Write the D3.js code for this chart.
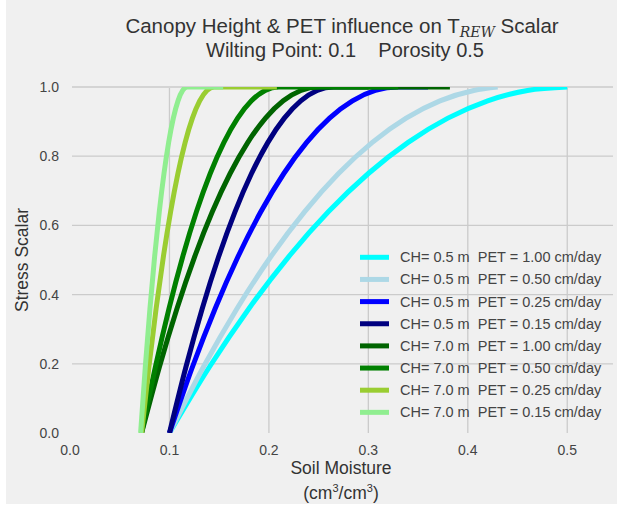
<!DOCTYPE html>
<html><head><meta charset="utf-8">
<script src="https://cdn.jsdelivr.net/npm/d3@7"></script>
<style>
body{margin:0;background:#fff;}
text{font-family:"Liberation Sans",Arial,sans-serif;white-space:pre;}
</style></head>
<body><svg id="c" width="617" height="509"></svg>
<script>
// ---- data ----
const seriesLabels = [
 "CH= 0.5 m  PET = 1.00 cm/day",
 "CH= 0.5 m  PET = 0.50 cm/day",
 "CH= 0.5 m  PET = 0.25 cm/day",
 "CH= 0.5 m  PET = 0.15 cm/day",
 "CH= 7.0 m  PET = 1.00 cm/day",
 "CH= 7.0 m  PET = 0.50 cm/day",
 "CH= 7.0 m  PET = 0.25 cm/day",
 "CH= 7.0 m  PET = 0.15 cm/day"
];
const seriesColors = ["#00ffff","#add8e6","#0000ff","#000080","#006400","#008000","#9acd32","#90ee90"];
// stress scalar values read at each sample point (last point: flat tail at 1.0)
const stress = [0, 0.19, 0.36, 0.51, 0.64, 0.75, 0.84, 0.91, 0.96, 0.99, 1.0, 1.0];
// soil moisture at which each curve reaches the above stress values
const moistCH05_PET100 = [0.100,0.140,0.180,0.220,0.260,0.300,0.340,0.380,0.420,0.460,0.500,0.500];
const moistCH05_PET050 = [0.100,0.134,0.168,0.202,0.236,0.270,0.304,0.338,0.372,0.406,0.430,0.430];
const moistCH05_PET025 = [0.100,0.123,0.146,0.169,0.192,0.215,0.238,0.261,0.284,0.307,0.330,0.360];
const moistCH05_PET015 = [0.100,0.1165,0.133,0.1495,0.166,0.1825,0.199,0.2155,0.232,0.2485,0.265,0.300];
const moistCH70_PET100 = [0.072,0.0898,0.1076,0.1254,0.1432,0.161,0.1788,0.1966,0.2144,0.2322,0.250,0.382];
const moistCH70_PET050 = [0.072,0.0858,0.0996,0.1134,0.1272,0.141,0.1548,0.1686,0.1824,0.1962,0.210,0.330];
const moistCH70_PET025 = [0.072,0.0793,0.0866,0.0939,0.1012,0.1085,0.1158,0.1231,0.1304,0.1377,0.145,0.208];
const moistCH70_PET015 = [0.071,0.0757,0.0804,0.0851,0.0898,0.0945,0.0992,0.1039,0.1086,0.1133,0.118,0.154];
const xTicks = [0.0,0.1,0.2,0.3,0.4,0.5];
const yTicks = [0.0,0.2,0.4,0.6,0.8,1.0];

const moist = [moistCH05_PET100,moistCH05_PET050,moistCH05_PET025,moistCH05_PET015,
               moistCH70_PET100,moistCH70_PET050,moistCH70_PET025,moistCH70_PET015];

// ---- layout ----
const svg = d3.select("#c");
svg.append("rect").attr("x",6).attr("y",0).attr("width",611).attr("height",504).attr("fill","#f0f0f0");

const L=70, R=613, T=87, B=433;
const x = d3.scaleLinear().domain([0,0.546]).range([L,R]);
const y = d3.scaleLinear().domain([0,1]).range([B,T]);

svg.append("defs").append("clipPath").attr("id","clip")
  .append("rect").attr("x",L).attr("y",T).attr("width",R-L).attr("height",B-T);

const grid = svg.append("g").attr("stroke","#cbcbcb").attr("stroke-width",1.3);
grid.selectAll("line.h").data(yTicks.slice(1)).join("line")
  .attr("x1",L+2).attr("x2",R).attr("y1",d=>y(d)).attr("y2",d=>y(d));
grid.selectAll("line.v").data(xTicks.slice(1)).join("line")
  .attr("y1",T+1).attr("y2",B).attr("x1",d=>x(d)).attr("x2",d=>x(d));

// tick labels
svg.append("g").selectAll("text").data(yTicks).join("text")
  .attr("x",59).attr("y",d=>y(d)+5).attr("text-anchor","end")
  .attr("font-size",14).attr("fill","#444").text(d=>d3.format(".1f")(d));
svg.append("g").selectAll("text").data(xTicks).join("text")
  .attr("x",d=>x(d)).attr("y",455).attr("text-anchor","middle")
  .attr("font-size",14).attr("fill","#444").text(d=>d3.format(".1f")(d));

// curves
const line = d3.line().x(d=>x(d[0])).y(d=>y(d[1])).curve(d3.curveMonotoneX);
const cg = svg.append("g").attr("clip-path","url(#clip)");
moist.forEach((m,i)=>{
  cg.append("path").datum(m.map((v,j)=>[v,stress[j]]))
    .attr("d",line).attr("fill","none").attr("stroke",seriesColors[i])
    .attr("stroke-width",5).attr("stroke-linejoin","round");
});

// legend
const lg = svg.append("g");
seriesLabels.forEach((s,i)=>{
  const yy = 257.3 + i*22.15;
  lg.append("line").attr("x1",360).attr("x2",389).attr("y1",yy).attr("y2",yy)
    .attr("stroke",seriesColors[i]).attr("stroke-width",5);
  lg.append("text").attr("x",400).attr("y",yy+5).attr("font-size",14.5).attr("fill","#444").text(s);
});

// titles
const t1 = svg.append("text").attr("x",342).attr("y",33).attr("text-anchor","middle")
  .attr("font-size",20.5).attr("fill","#333");
t1.append("tspan").text("Canopy Height & PET influence on T");
t1.append("tspan").attr("font-family","DejaVu Serif, serif").attr("font-style","italic")
  .attr("font-size",14).attr("dy",4).text("REW");
t1.append("tspan").attr("dy",-4).text(" Scalar");
svg.append("text").attr("x",345).attr("y",57).attr("text-anchor","middle")
  .attr("font-size",20).attr("fill","#333")
  .text("Wilting Point: 0.1    Porosity 0.5");

// axis labels
svg.append("text").attr("x",341).attr("y",474).attr("text-anchor","middle")
  .attr("font-size",17.5).attr("fill","#333").text("Soil Moisture");
const u = svg.append("text").attr("x",341).attr("y",499).attr("text-anchor","middle")
  .attr("font-size",17.5).attr("fill","#333");
u.append("tspan").text("(cm");
u.append("tspan").attr("font-size",11).attr("dy",-7).text("3");
u.append("tspan").attr("dy",7).text("/cm");
u.append("tspan").attr("font-size",11).attr("dy",-7).text("3");
u.append("tspan").attr("dy",7).text(")");
svg.append("text").attr("transform","translate(28,260) rotate(-90)").attr("text-anchor","middle")
  .attr("font-size",17.5).attr("fill","#333").text("Stress Scalar");
</script></body></html>
